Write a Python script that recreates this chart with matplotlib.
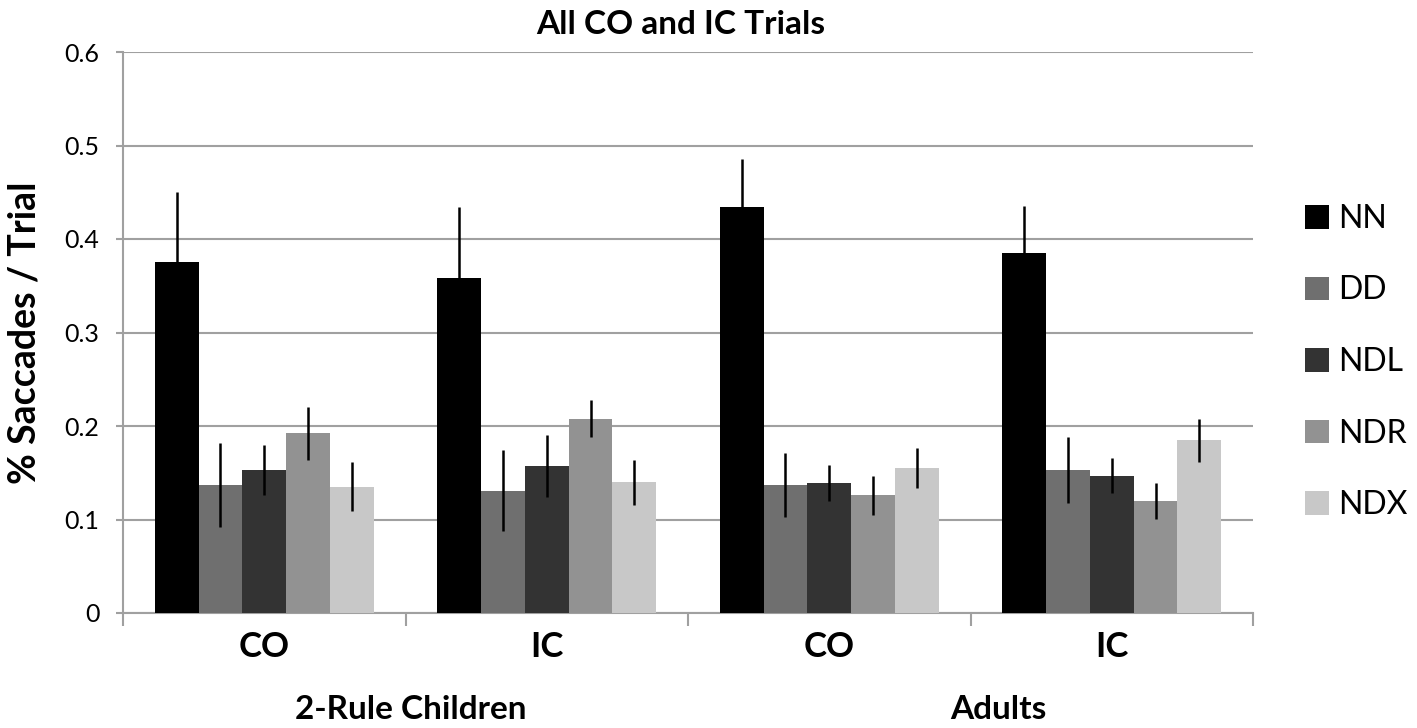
import matplotlib
matplotlib.use("Agg")
import matplotlib.pyplot as plt
import numpy as np
from matplotlib.transforms import blended_transform_factory
from matplotlib.patches import Patch

plt.rcParams['font.family'] = ['Lato', 'DejaVu Sans']

title = "All CO and IC Trials"
ylabel = "% Saccades / Trial"
categories = ["CO", "IC", "CO", "IC"]
groups = ["2-Rule Children", "Adults"]
series = ["NN", "DD", "NDL", "NDR", "NDX"]
colors = ["#000000", "#6f6f6f", "#333333", "#929292", "#c8c8c8"]

values = {
    "NN":  [0.375, 0.358, 0.434, 0.385],
    "DD":  [0.137, 0.131, 0.137, 0.153],
    "NDL": [0.153, 0.157, 0.139, 0.147],
    "NDR": [0.192, 0.208, 0.126, 0.120],
    "NDX": [0.135, 0.140, 0.155, 0.185],
}
errors = {
    "NN":  [0.075, 0.076, 0.052, 0.050],
    "DD":  [0.045, 0.043, 0.034, 0.035],
    "NDL": [0.027, 0.033, 0.019, 0.019],
    "NDR": [0.028, 0.020, 0.021, 0.019],
    "NDX": [0.026, 0.024, 0.021, 0.023],
}
yticks = [0, 0.1, 0.2, 0.3, 0.4, 0.5, 0.6]
ytick_labels = ["0", "0.1", "0.2", "0.3", "0.4", "0.5", "0.6"]
group_centers = [0.52, 2.6]

W, H = 1417, 728
fig = plt.figure(figsize=(W / 100, H / 100), dpi=100)
ax = fig.add_axes([123 / W, 1 - 613 / H, (1253 - 123) / W, (613 - 52) / H])

x = np.arange(len(categories))
bw = 0.155
n = len(series)
for i, s in enumerate(series):
    pos = x + (i - (n - 1) / 2) * bw
    ax.bar(pos, values[s], width=bw, color=colors[i], zorder=3, label=s)
    ax.errorbar(pos, values[s], yerr=errors[s], fmt='none', ecolor='black',
                elinewidth=1.8, capsize=0, zorder=4)

ax.set_xlim(-0.5, len(categories) - 0.5)
ax.set_ylim(0, 0.6)
ax.set_yticks(yticks)
ax.set_yticklabels(ytick_labels, fontsize=18)
ax.yaxis.grid(True, color='#a0a0a0', linewidth=1.5, zorder=0)
ax.set_axisbelow(True)

for sp in ['top', 'right']:
    ax.spines[sp].set_visible(False)
for sp in ['left', 'bottom']:
    ax.spines[sp].set_color('#a0a0a0')
    ax.spines[sp].set_linewidth(1.5)

ax.tick_params(axis='y', direction='out', length=5, width=1.5, color='#a0a0a0', pad=12)
ax.set_xticks(np.arange(-0.5, len(categories), 1.0))
ax.set_xticklabels([])
ax.tick_params(axis='x', which='major', direction='out', length=9, width=1.5, color='#a0a0a0')
ax.set_xticks(x, labels=categories, minor=True)
ax.tick_params(axis='x', which='minor', length=0, pad=13)
for lab in ax.get_xticklabels(minor=True):
    lab.set_fontsize(25)
    lab.set_fontweight('bold')

tr = blended_transform_factory(ax.transData, ax.transAxes)
for g, c in zip(groups, group_centers):
    ax.text(c, -0.172, g, transform=tr, ha='center', va='center',
            fontsize=24, fontweight='bold')

ax.set_ylabel(ylabel, fontsize=27, fontweight='bold')
ax.yaxis.set_label_coords(-0.072, 0.5)

fig.text(681 / W, 1 - 25 / H, title, ha='center', va='center',
         fontsize=24, fontweight='bold')

handles = [Patch(facecolor=c, edgecolor='none') for c in colors]
fig.legend(handles, series, loc='center left', bbox_to_anchor=(1305 / W, 1 - 362 / H),
           frameon=False, fontsize=23, handlelength=0.75, handleheight=0.75,
           handletextpad=0.3, labelspacing=1.3, borderaxespad=0, borderpad=0)

fig.savefig("out.png", dpi=100)
